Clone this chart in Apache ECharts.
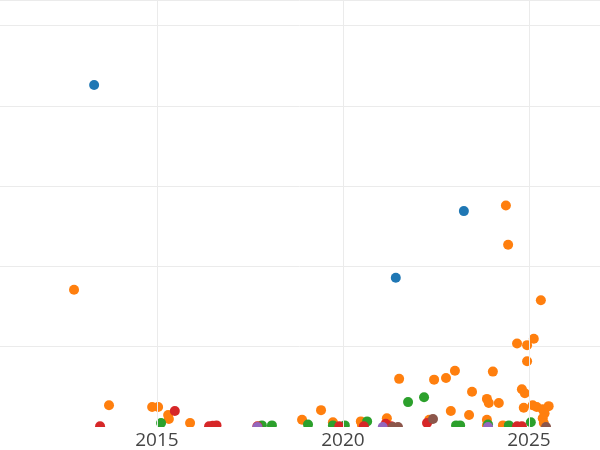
<!DOCTYPE html>
<html>
<head>
<meta charset="utf-8">
<script src="https://cdn.jsdelivr.net/npm/echarts@6/dist/echarts.min.js"></script>
<style>html,body{margin:0;padding:0;background:#fff;}#c{width:600px;height:450px;}</style>
</head>
<body>
<div id="c"></div>
<script>
// [year, value]
const blueData = [[2013.31, 42.6], [2023.25, 26.9], [2021.42, 18.6]];
const orangeData = [
  [2012.77, 17.1], [2024.38, 27.6], [2024.44, 22.7], [2025.32, 15.8], [2025.13, 11.0],
  [2024.68, 10.4], [2024.95, 10.2], [2024.95, 8.2], [2023.01, 7.0], [2022.77, 6.1],
  [2022.45, 5.9], [2021.51, 6.0], [2024.03, 6.9], [2023.47, 4.4], [2024.81, 4.7],
  [2024.89, 4.2], [2023.87, 3.5], [2023.92, 3.0], [2024.19, 3.0], [2022.90, 2.0],
  [2023.39, 1.5], [2023.87, 0.9], [2013.71, 2.7], [2014.87, 2.5], [2015.03, 2.5],
  [2015.30, 1.5], [2015.32, 1.0], [2015.89, 0.5], [2018.90, 0.9], [2019.41, 2.1],
  [2019.73, 0.6], [2020.48, 0.7], [2020.51, 0.25], [2021.18, 1.1], [2022.32, 0.9],
  [2024.30, 0.2], [2024.86, 2.4], [2025.10, 2.7], [2025.21, 2.5], [2025.37, 2.2],
  [2025.53, 2.6], [2025.42, 1.7], [2025.37, 1.1], [2025.40, 0.5], [2023.87, 0.2]
];
const greenData = [
  [2015.11, 0.5], [2017.82, 0.2], [2018.09, 0.2], [2019.06, 0.3], [2019.73, 0.2],
  [2020.05, 0.2], [2020.65, 0.7], [2021.75, 3.1], [2022.18, 3.7], [2023.04, 0.2],
  [2023.15, 0.2], [2023.90, 0.3], [2024.46, 0.2], [2025.05, 0.6]
];
const redData = [
  [2013.47, 0.1], [2015.48, 2.0], [2016.40, 0.1], [2016.50, 0.15], [2016.60, 0.2],
  [2017.70, 0.1], [2019.90, 0.1], [2020.56, 0.1], [2021.15, 0.4], [2021.30, 0.1],
  [2022.26, 0.5], [2024.68, 0.1], [2024.81, 0.1]
];
const purpleData = [[2017.70, 0.0], [2021.07, 0.0], [2023.90, 0.0]];
const brownData = [[2021.34, 0.0], [2021.48, 0.0], [2022.42, 1.0], [2025.46, 0.0]];

const seriesList = [
  {name: 'A', color: '#1f77b4', data: blueData},
  {name: 'B', color: '#ff7f0e', data: orangeData},
  {name: 'C', color: '#2ca02c', data: greenData},
  {name: 'D', color: '#d62728', data: redData},
  {name: 'E', color: '#9467bd', data: purpleData},
  {name: 'F', color: '#8c564b', data: brownData}
];

const chart = echarts.init(document.getElementById('c'));
chart.setOption({
  animation: false,
  backgroundColor: '#fff',
  grid: {left: -29, right: 0, top: 0, bottom: 23, containLabel: false, outerBoundsMode: 'none'},
  // white band below the plot area so markers are cut at the plot edge
  graphic: [{type: 'rect', left: 0, bottom: 0, shape: {width: 600, height: 23},
    style: {fill: '#fff'}, z: 10, silent: true}],
  xAxis: {
    type: 'value', min: 2010, max: 2026.91, interval: 5, z: 20,
    axisLine: {show: false}, axisTick: {show: false},
    splitLine: {show: true, lineStyle: {color: '#ebebeb', width: 1}},
    axisLabel: {color: '#444', fontFamily: 'Open Sans', fontSize: 19, margin: 4,
      showMinLabel: false, showMaxLabel: false,
      formatter: v => String(Math.round(v))}
  },
  yAxis: {
    type: 'value', min: 0, max: 53.2, interval: 10,
    axisLine: {show: false}, axisTick: {show: false}, axisLabel: {show: false},
    splitLine: {show: true, lineStyle: {color: '#ebebeb', width: 1}}
  },
  series: seriesList.map(s => ({
    type: 'scatter', name: s.name, data: s.data, symbolSize: 10, clip: true,
    itemStyle: {color: s.color, opacity: 1}
  }))
});
</script>
</body>
</html>
